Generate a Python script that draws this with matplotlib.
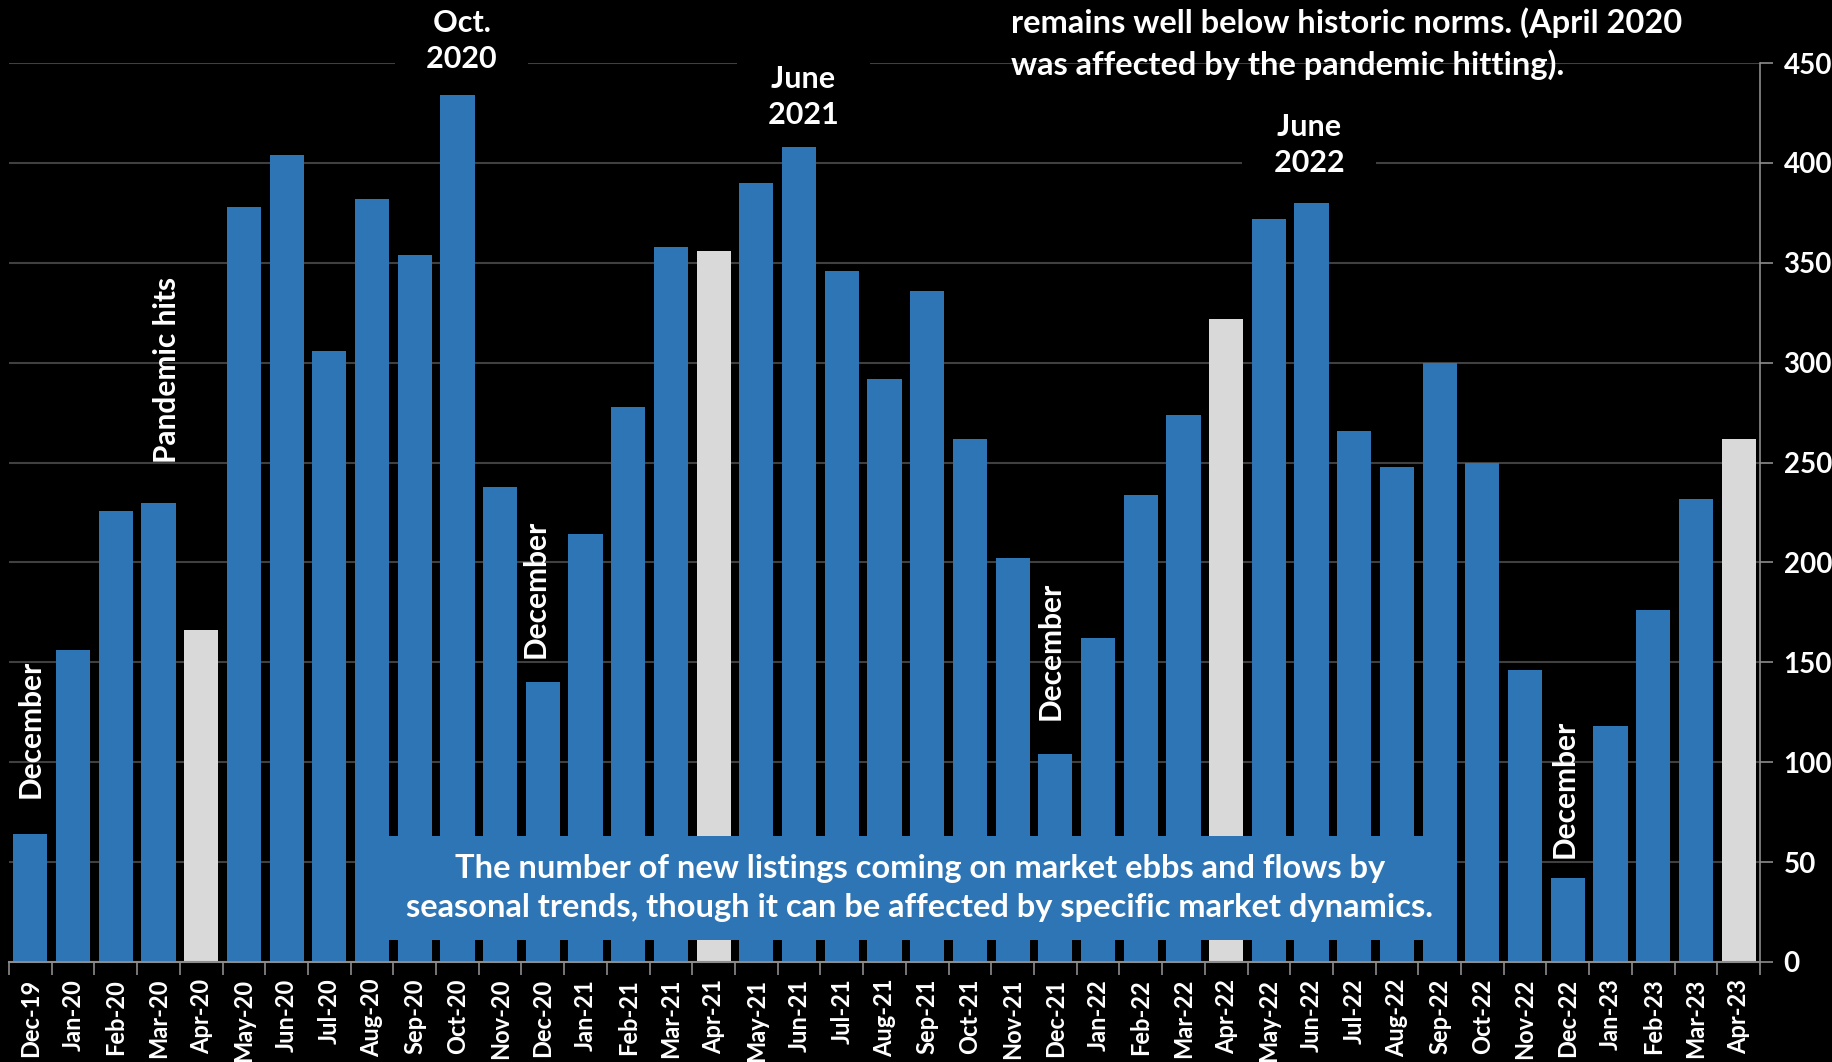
import matplotlib
matplotlib.use("Agg")
import matplotlib.pyplot as plt
from matplotlib.patches import Rectangle

plt.rcParams["font.family"] = ["Lato", "DejaVu Sans"]
plt.rcParams["font.weight"] = "bold"

# ----------------------------------------------------------------------
# data (new listings per month)
months = [
    "Dec-19", "Jan-20", "Feb-20", "Mar-20", "Apr-20", "May-20", "Jun-20",
    "Jul-20", "Aug-20", "Sep-20", "Oct-20", "Nov-20", "Dec-20", "Jan-21",
    "Feb-21", "Mar-21", "Apr-21", "May-21", "Jun-21", "Jul-21", "Aug-21",
    "Sep-21", "Oct-21", "Nov-21", "Dec-21", "Jan-22", "Feb-22", "Mar-22",
    "Apr-22", "May-22", "Jun-22", "Jul-22", "Aug-22", "Sep-22", "Oct-22",
    "Nov-22", "Dec-22", "Jan-23", "Feb-23", "Mar-23", "Apr-23",
]
listings = [
    64, 156, 226, 230, 166, 378, 404, 306, 382, 354, 434, 238, 140, 214,
    278, 358, 356, 390, 408, 346, 292, 336, 262, 202, 104, 162, 234, 274,
    322, 372, 380, 266, 248, 300, 250, 146, 42, 118, 176, 232, 262,
]
highlight = ["Apr-20", "Apr-21", "Apr-22", "Apr-23"]

blue = "#2E75B6"
grey = "#D9D9D9"
colors = [grey if m in highlight else blue for m in months]

# ----------------------------------------------------------------------
# figure
W, H = 1833, 1062
fig = plt.figure(figsize=(W / 100, H / 100), dpi=100)
fig.patch.set_facecolor("black")
ax = fig.add_axes([9 / W, 1 - 962 / H, (1760 - 9) / W, (962 - 63) / H])
ax.set_facecolor("black")

x = list(range(len(months)))
ax.bar(x, listings, width=0.8, color=colors, zorder=2)

ax.set_xlim(-0.5, len(months) - 0.5)
ax.set_ylim(0, 450)

# y axis on the right
ax.yaxis.tick_right()
ax.set_yticks(range(0, 451, 50))
ax.tick_params(axis="y", colors="#8C8C8C", length=9, width=1.2, pad=8,
               labelcolor="white", labelsize=20)
ax.grid(axis="y", color="#404040", lw=1.5, zorder=0)

# x axis: labels at bar centres, ticks at boundaries
ax.set_xticks(x)
ax.set_xticklabels(months, rotation=90, color="white", fontsize=17)
ax.tick_params(axis="x", which="major", length=0, pad=12)
ax.set_xticks([i - 0.5 for i in range(len(months) + 1)], minor=True)
ax.tick_params(axis="x", which="minor", length=9, width=1.2, color="#8C8C8C")

for s in ["top", "left"]:
    ax.spines[s].set_visible(False)
ax.spines["right"].set_color("#8C8C8C")
ax.spines["bottom"].set_color("#8C8C8C")
ax.spines["right"].set_linewidth(1.2)
ax.spines["bottom"].set_linewidth(1.5)

# ----------------------------------------------------------------------
# annotations
fs = 23.5
box = dict(boxstyle="square,pad=0.3", fc="black", ec="none")

rot_notes = [
    ("Dec-19", "December", 0.0, 18),
    ("Mar-20", "Pandemic hits", 0.2, 20),
    ("Dec-20", "December", -0.18, 12),
    ("Dec-21", "December", -0.1, 17),
    ("Dec-22", "December", -0.07, 10),
]
for m, label, dx, dy in rot_notes:
    i = months.index(m)
    ax.text(i + dx, listings[i] + dy, label, rotation=90, ha="center",
            va="bottom", color="white", fontsize=21.5, zorder=4)

peak_notes = [
    ("Oct-20", "Oct.\n2020", 0.1, 461),
    ("Jun-21", "June\n2021", 0.1, 433),
    ("Jun-22", "June\n2022", -0.06, 409),
]
for m, label, dx, yc in peak_notes:
    i = months.index(m)
    ax.text(i + dx, yc, "   " + label.replace("\n", "   \n   ") + "   ",
            ha="center", va="center", multialignment="center",
            color="white", fontsize=22, linespacing=1.38, bbox=box,
            zorder=4, clip_on=False)

# caption box over the bars
ax.add_patch(Rectangle((7.64, 11), 33.41 - 7.64, 52, facecolor=blue,
                       edgecolor="none", zorder=3))
ax.text(20.83, 37,
        "The number of new listings coming on market ebbs and flows by\n"
        "seasonal trends, though it can be affected by specific market dynamics.",
        ha="center", va="center", color="white", fontsize=fs,
        linespacing=1.42, zorder=4)

# top-right commentary (continues above the frame)
fig.text(1011 / W, 1 - 43.5 / H,
         "remains well below historic norms. (April 2020\n"
         "was affected by the pandemic hitting).",
         ha="left", va="center", color="white", fontsize=fs, linespacing=1.42)

fig.savefig("out.png", dpi=100, facecolor="black")
